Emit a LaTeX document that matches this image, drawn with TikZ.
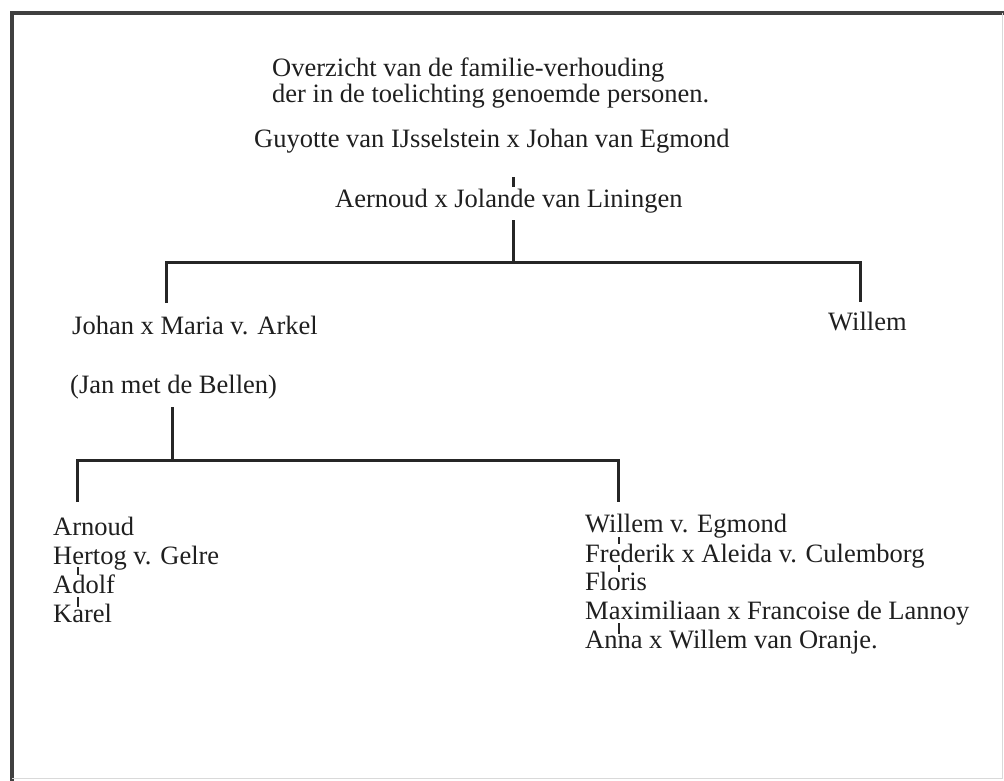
\documentclass[tikz,border=0pt]{standalone}
\usepackage{fontspec}
\setmainfont{Liberation Serif}
\begin{document}
\begin{tikzpicture}[x=1pt,y=-1pt,
  txt/.style={anchor=base west,inner sep=0pt,font=\fontsize{26.5}{31}\selectfont,text=black!88},
  tree/.style={line width=3pt,draw=black!85},
  tick/.style={line width=1.8pt,draw=black!85},
  frame/.style={line width=3.4pt,draw=black!75}]
\useasboundingbox (0,0) rectangle (1004,781);
% frame
\draw[frame] (1004,13) -- (12,13) -- (12,781);
\draw[line width=0.6pt,draw=black!15] (1002,13) -- (1002,778) -- (12,778);
% title
\node[txt] (t1) at (272,77) {Overzicht van de familie-verhouding};
\node[txt] (t2) at (272,103) {der in de toelichting genoemde personen.};
% generations
\node[txt] (g1) at (254,147) {Guyotte van IJsselstein x Johan van Egmond};
\node[txt] (g2) at (335,207) {Aernoud x Jolande van Liningen};
\node[txt] (jo) at (72,334) {Johan x Maria v. Arkel};
\node[txt] (jb) at (70,393) {(Jan met de Bellen)};
\node[txt] (wi) at (828,330) {Willem};
% left list
\node[txt] (l1) at (53,535) {Arnoud};
\node[txt] (l2) at (53,564) {Hertog v. Gelre};
\node[txt] (l3) at (53,593) {Adolf};
\node[txt] (l4) at (53,622) {Karel};
% right list
\node[txt] (r1) at (585,532) {Willem v. Egmond};
\node[txt] (r2) at (585,562) {Frederik x Aleida v. Culemborg};
\node[txt] (r3) at (585,590) {Floris};
\node[txt] (r4) at (585,619) {Maximiliaan x Francoise de Lannoy};
\node[txt] (r5) at (585,648) {Anna x Willem van Oranje.};
% coordinates
\coordinate (a1) at (513,177); \coordinate (a2) at (513,187);
\coordinate (b1) at (513,220); \coordinate (b2) at (513,262);
\coordinate (bl) at (166,262); \coordinate (blb) at (166,303);
\coordinate (br) at (860,262); \coordinate (brb) at (860,302);
\coordinate (c1) at (172,407); \coordinate (c2) at (172,460);
\coordinate (cl) at (77,460); \coordinate (clb) at (77,502);
\coordinate (cr) at (618,460); \coordinate (crb) at (618,502);
% tree lines
\draw[tree] (a1) -- (a2);
\draw[tree] (b1) -- (b2);
\draw[tree] (blb) -- (bl) -- (br) -- (brb);
\draw[tree] (c1) -- (c2);
\draw[tree] (clb) -- (cl) -- (cr) -- (crb);
% ticks left
\draw[tick] (78,567) -- (78,575);
\draw[tick] (78,597) -- (78,607);
% ticks right
\draw[tick] (619,537) -- (619,544);
\draw[tick] (619,565) -- (619,572);
\draw[tick] (619,623) -- (619,634);
\end{tikzpicture}
\end{document}
